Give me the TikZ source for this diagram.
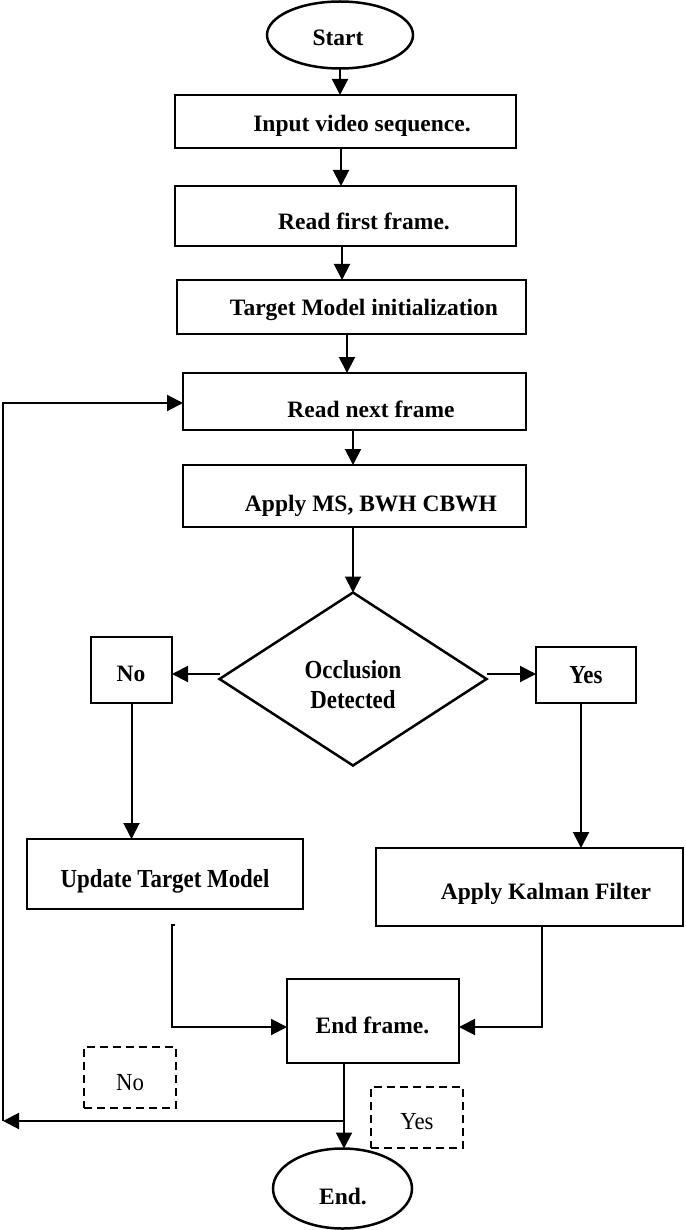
\documentclass[tikz,border=0pt]{standalone}
\usepackage{fontspec}
\setmainfont{Liberation Serif}
\newfontfamily\condserif[FakeStretch=0.88]{Liberation Serif}
\newfontfamily\semicond[FakeStretch=0.93]{Liberation Serif}
\usetikzlibrary{arrows.meta,shapes.geometric,calc}
\tikzset{
  boxn/.style={draw, line width=2.5pt, rectangle, inner sep=0pt, outer sep=0pt},
  ovaln/.style={draw, line width=2.5pt, ellipse, inner sep=0pt, outer sep=0pt},
  dashn/.style={draw, line width=2.2pt, dash pattern=on 8pt off 5pt, rectangle, inner sep=0pt, outer sep=0pt},
  lbl/.style={font=\bfseries\fontsize{23.5}{27}\selectfont, anchor=base, inner sep=0pt},
  lblc/.style={font=\condserif\bfseries\fontsize{26}{30}\selectfont, anchor=base, inner sep=0pt},
  lblr/.style={font=\semicond\fontsize{24.5}{28}\selectfont, anchor=base, inner sep=0pt},
  arr/.style={line width=2pt, -{Triangle[length=16pt,width=16pt]}}
}
\begin{document}
\begin{tikzpicture}[x=1pt,y=-1pt]
\useasboundingbox (0,0) rectangle (685,1230);
% shapes
\node[ovaln, minimum width=146pt, minimum height=67pt] (start) at (340,35) {};
\node[boxn, minimum width=341pt, minimum height=53pt] (input) at (345.5,121.5) {};
\node[boxn, minimum width=341pt, minimum height=60pt] (first) at (345.5,216) {};
\node[boxn, minimum width=349pt, minimum height=54pt] (target) at (351.5,307) {};
\node[boxn, minimum width=343pt, minimum height=57pt] (next) at (354.5,401.5) {};
\node[boxn, minimum width=343pt, minimum height=62pt] (apply) at (354.5,496) {};
\node[draw, line width=2.5pt, diamond, inner sep=0pt, outer sep=0pt, minimum width=267pt, minimum height=173pt] (dia) at (353,679) {};
\node[boxn, minimum width=81pt, minimum height=66pt] (no) at (131.5,670) {};
\node[boxn, minimum width=100pt, minimum height=56pt] (yes) at (586,675) {};
\node[boxn, minimum width=276pt, minimum height=70pt] (update) at (165,874) {};
\node[boxn, minimum width=307pt, minimum height=78pt] (kalman) at (529.5,887) {};
\node[boxn, minimum width=172pt, minimum height=84pt] (endf) at (373,1021) {};
\node[dashn, minimum width=92pt, minimum height=61pt] (nod) at (130,1077.5) {};
\node[dashn, minimum width=92pt, minimum height=61pt] (yesd) at (417,1117.5) {};
\node[ovaln, minimum width=139pt, minimum height=80pt] (end) at (342.5,1188.5) {};
% texts
\node[lbl] (tstart) at (338,46) {Start};
\node[lbl] (tinput) at (362,132) {Input video sequence.};
\node[lbl] (tfirst) at (364,230) {Read first frame.};
\node[lbl] (ttarget) at (364,315) {Target Model initialization};
\node[lbl] (tnext) at (371,417) {Read next frame};
\node[lbl] (tapply) at (371,511) {Apply MS, BWH CBWH};
\node[lblc] (tocc) at (353,678) {Occlusion};
\node[lblc] (tdet) at (353,708) {Detected};
\node[lbl] (tno) at (131,681) {No};
\node[lblc] (tyes) at (586,683) {Yes};
\node[lblc] (tupdate) at (165,887) {Update Target Model};
\node[lbl] (tkalman) at (546,899) {Apply Kalman Filter};
\node[lbl] (tendf) at (372.5,1033) {End frame.};
\node[lblr] (tnod) at (130,1090) {No};
\node[lblr] (tyesd) at (417,1129) {Yes};
\node[lbl] (tend) at (343,1204) {End.};
% connectors
\draw[arr] (start.south) -- (start.south |- input.north);
\draw[arr] ([xshift=-4.5pt]input.south) coordinate (c1) -- (c1 |- first.north);
\draw[arr] ([xshift=-3.5pt]first.south) coordinate (c2) -- (c2 |- target.north);
\draw[arr] ([xshift=-4.5pt]target.south) coordinate (c3) -- (c3 |- next.north);
\draw[arr] ([xshift=-1.5pt]next.south) coordinate (c4) -- (c4 |- apply.north);
\draw[arr] (apply.south -| dia.north) -- (dia.north);
\draw[arr] ([yshift=5pt]dia.west) coordinate (c5) -- (c5 -| no.east);
\draw[arr] ([yshift=5pt]dia.east) coordinate (c6) -- (c6 -| yes.west);
\draw[arr] (no.south) -- (no.south |- update.north);
\draw[arr] ([xshift=-5pt]yes.south) coordinate (c7) -- (c7 |- kalman.north);
\coordinate (ein) at ([yshift=-6pt]endf.west);
\coordinate (eout) at ([yshift=-6pt]endf.east);
\coordinate (utick) at (175,925);
\coordinate (ustart) at (172,925);
\draw[arr] (utick) -- (ustart) -- (ustart |- ein) -- (ein);
\draw[arr] ([xshift=12pt]kalman.south) coordinate (c8) -- (c8 |- eout) -- (eout);
\draw[arr] ([xshift=-29pt]endf.south) coordinate (c9) -- (c9 |- end.north);
\coordinate (fbj) at (344,1121);
\coordinate (fbl) at (3,1121);
\coordinate (fbt) at (3,403);
\draw[arr] (fbj) -- (fbl);
\draw[arr] (fbl) -- (fbt) -- (fbt -| next.west);
\end{tikzpicture}
\end{document}
